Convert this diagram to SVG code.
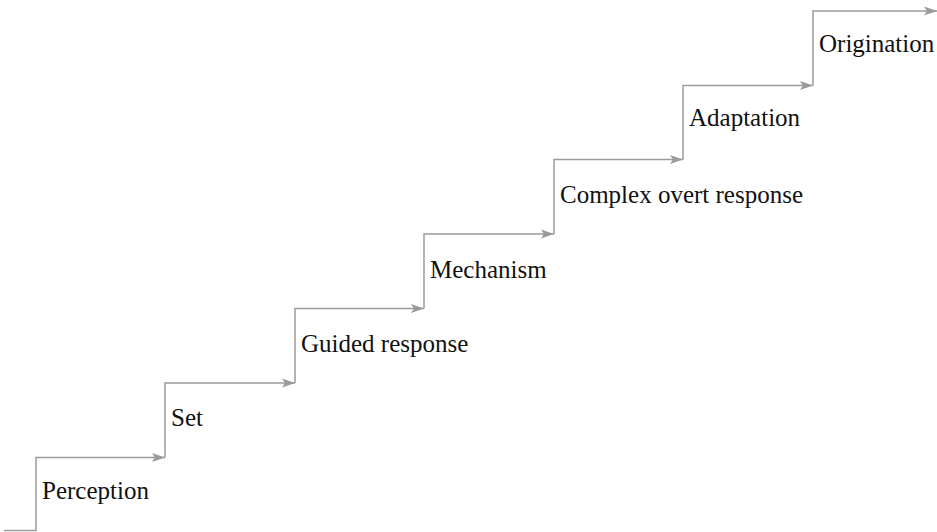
<svg xmlns="http://www.w3.org/2000/svg" width="937" height="532" viewBox="0 0 937 532">
<style>
.step{fill:none;stroke:#9a9a9a;stroke-width:1.5;marker-end:url(#ah)}
.lbl{font-family:"Liberation Serif",serif;font-size:25px;fill:#111}
</style>
<defs>
<marker id="ah" markerUnits="userSpaceOnUse" markerWidth="16" markerHeight="12" viewBox="-14 -6 16 12" refX="0" refY="0" orient="auto" overflow="visible">
<path d="M0,0 L-13,-4.5 L-10,0 L-13,4.5 Z" fill="#9a9a9a"/>
</marker>
</defs>
<rect width="937" height="532" fill="#fff"/>
<g id="connectors">
<path class="step" d="M4,530.5 H36 V457.5 H165"/>
<path class="step" d="M165,457.5 V383 H295"/>
<path class="step" d="M295,383 V308.5 H424"/>
<path class="step" d="M424,308.5 V234 H554"/>
<path class="step" d="M554,234 V159.5 H683"/>
<path class="step" d="M683,159.5 V85.5 H813"/>
<path class="step" d="M813,85.5 V11 H937"/>
</g>
<g id="perception"><text class="lbl" x="42" y="499">Perception</text></g>
<g id="set"><text class="lbl" x="171" y="426">Set</text></g>
<g id="guided-response"><text class="lbl" x="301" y="352">Guided response</text></g>
<g id="mechanism"><text class="lbl" x="430" y="277.5">Mechanism</text></g>
<g id="complex-overt-response"><text class="lbl" x="560" y="203">Complex overt response</text></g>
<g id="adaptation"><text class="lbl" x="689" y="125.5">Adaptation</text></g>
<g id="origination"><text class="lbl" x="819" y="52">Origination</text></g>
</svg>
